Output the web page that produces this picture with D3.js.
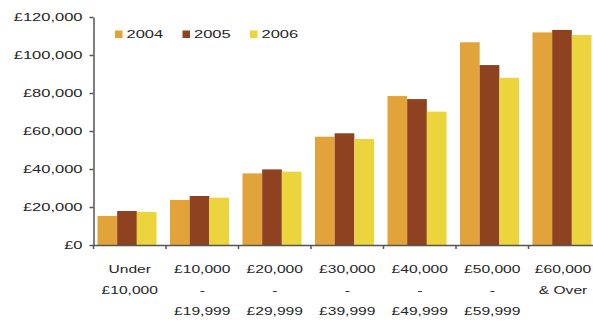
<!DOCTYPE html>
<html>
<head>
<meta charset="utf-8">
<script src="https://cdn.jsdelivr.net/npm/d3@7"></script>
<style>
  html, body { margin: 0; padding: 0; background: #fff; }
  svg { display: block; }
  text { font-family: "Liberation Sans", Arial, sans-serif; fill: #262626; }
</style>
</head>
<body>
<svg id="chart" width="593" height="324"></svg>
<script>
// Income bands (x categories), each label split into display lines
const categories = ["Under £10,000", "£10,000 - £19,999", "£20,000 - £29,999",
  "£30,000 - £39,999", "£40,000 - £49,999", "£50,000 - £59,999", "£60,000 & Over"];
const categoryLines = [
  ["Under", "£10,000"],
  ["£10,000", "-", "£19,999"],
  ["£20,000", "-", "£29,999"],
  ["£30,000", "-", "£39,999"],
  ["£40,000", "-", "£49,999"],
  ["£50,000", "-", "£59,999"],
  ["£60,000", "& Over"]
];
const years = ["2004", "2005", "2006"];
const values2004 = [15300, 23700, 37700, 57000, 78400, 106700, 111900];
const values2005 = [17900, 25800, 39800, 58800, 76800, 94700, 113200];
const values2006 = [17400, 24900, 38600, 55800, 70200, 88000, 110500];
const yTicks = [0, 20000, 40000, 60000, 80000, 100000, 120000];

const seriesValues = { "2004": values2004, "2005": values2005, "2006": values2006 };
const colors = { "2004": "#E2A43A", "2005": "#8E4220", "2006": "#ECD43C" };

const svg = d3.select("#chart");
const STRETCH = 1.5;       // wide lettering of the axis and legend labels
const CAT_STRETCH = 1.42;  // category labels are a touch narrower
const axisColor = "#555";

const y = d3.scaleLinear().domain([0, 120000]).range([245, 17]);
const x0 = d3.scaleBand().domain(categories).range([93.5, 601]).paddingInner(0).paddingOuter(0);
const x1 = d3.scaleBand().domain(years).range([0, 59]).padding(0);
const groupOffset = 4;

// Bars
const groups = svg.append("g").selectAll("g")
  .data(categories)
  .join("g")
  .attr("transform", d => `translate(${x0(d) + groupOffset},0)`);

groups.selectAll("rect")
  .data((c, i) => years.map(yr => ({ yr, v: seriesValues[yr][i] })))
  .join("rect")
  .attr("x", d => x1(d.yr))
  .attr("width", x1.bandwidth())
  .attr("y", d => y(d.v))
  .attr("height", d => y(0) - y(d.v))
  .attr("fill", d => colors[d.yr]);

// Y axis
const yAxis = svg.append("g")
  .attr("transform", "translate(93.5,0)")
  .call(d3.axisLeft(y).tickValues(yTicks).tickSize(4).tickSizeOuter(0)
    .tickFormat(d => "£" + d3.format(",")(d)));
yAxis.select(".domain").attr("stroke", axisColor).attr("stroke-width", 1.5);
yAxis.selectAll(".tick line").attr("stroke", axisColor).attr("stroke-width", 1.5);
yAxis.selectAll(".tick text")
  .attr("x", -11 / STRETCH)
  .attr("dy", "0.34em")
  .attr("transform", `scale(${STRETCH},1)`)
  .style("font-size", "11px")
  .style("font-family", "'Liberation Sans', Arial, sans-serif")
  .attr("fill", "#262626");

// X axis: baseline plus ticks between categories
const xAxis = svg.append("g")
  .attr("transform", `translate(0,${y(0)})`)
  .call(d3.axisBottom(x0).tickSize(0).tickSizeOuter(0).tickFormat(""));
xAxis.select(".domain").attr("stroke", axisColor).attr("stroke-width", 1.5);

svg.append("g").selectAll("line")
  .data(categories)
  .join("line")
  .attr("x1", d => x0(d))
  .attr("x2", d => x0(d))
  .attr("y1", y(0))
  .attr("y2", y(0) + 4)
  .attr("stroke", axisColor)
  .attr("stroke-width", 1.5);

// Category labels (multi-line, centred under each band)
const labelGroups = svg.append("g").selectAll("g")
  .data(categories)
  .join("g")
  .attr("transform", d => `translate(${Math.min(x0(d) + x0.bandwidth() / 2, 563)},0)`);

labelGroups.selectAll("text")
  .data((c, i) => categoryLines[i])
  .join("text")
  .attr("text-anchor", "middle")
  .attr("transform", (d, j) => `translate(0,${273 + j * 20.8}) scale(${CAT_STRETCH},1)`)
  .style("font-size", "11px")
  .text(d => d);

// Legend
const legend = svg.append("g").selectAll("g")
  .data(years)
  .join("g")
  .attr("transform", (d, i) => `translate(${115 + i * 67.5},30.5)`);
legend.append("rect")
  .attr("width", 7.5)
  .attr("height", 7.5)
  .attr("fill", d => colors[d]);
legend.append("text")
  .attr("transform", `translate(11.5,7.6) scale(${STRETCH},1)`)
  .style("font-size", "11px")
  .text(d => d);
</script>
</body>
</html>
